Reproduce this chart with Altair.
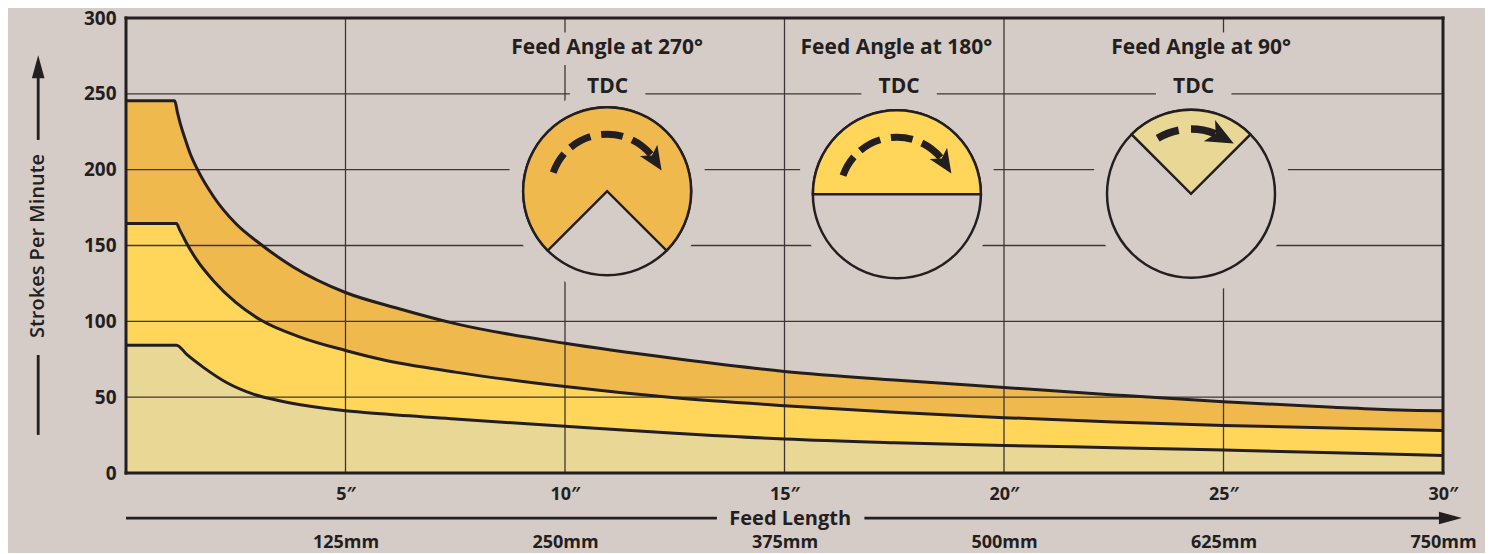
import math
import altair as alt
import pandas as pd

# ---------------- colours ----------------
BG = "#D6CCC7"
DARK = "#231F20"
GRID = "#3d3637"
ORANGE = "#F0B94E"
YELLOW = "#FFD65A"
BEIGE = "#E8D795"
FONT = "Open Sans"

# ---------------- curve data (feed length in inches, strokes per minute) ----------------
x_top = [0, 1.11, 1.17, 1.25, 1.35, 1.45, 1.63, 2.0, 2.5, 3.06, 3.8, 5, 6.2, 7.5, 10, 12.5, 15, 17.5, 20, 22.5, 25, 27.5, 29, 30]
spm_top = [245.4, 245.4, 238, 229, 220, 211.5, 200, 182, 164.5, 151, 136, 119, 108.5, 98.5, 85.5, 75.5, 67, 61.3, 56.4, 51.5, 47, 43.4, 41.6, 41.1]

x_mid = [0, 1.15, 1.22, 1.3, 1.39, 1.6, 2.0, 2.5, 3.06, 4, 5, 5.8, 7.5, 10, 12.5, 15, 17.5, 20, 22.5, 25, 27.5, 30]
spm_mid = [164.5, 164.5, 160.5, 156, 151, 141, 126.5, 112.5, 101, 89.3, 80.8, 75, 66.5, 57, 49.6, 44.4, 40.1, 36.5, 33.7, 31.4, 29.6, 28]

x_bot = [0, 1.15, 1.39, 1.77, 2.3, 2.9, 3.5, 4.12, 5, 5.8, 7.5, 10, 12.5, 15, 17.5, 20, 22.5, 25, 27.5, 30]
spm_bot = [84.3, 84.3, 78, 69.5, 59.5, 52, 47.6, 44.3, 41, 39, 35.6, 30.8, 26.2, 22.4, 20, 18.2, 16.7, 15.1, 13.4, 11.6]

x_ticks = [5, 10, 15, 20, 25, 30]
y_ticks = [0, 50, 100, 150, 200, 250, 300]
grid_x = [5, 10, 15, 20, 25]
grid_y = [50, 100, 150, 200, 250]

# ---------------- feed-angle diagrams ----------------
diag_titles = ["Feed Angle at 270°", "Feed Angle at 180°", "Feed Angle at 90°"]
diag_title_x = [10.96, 17.55, 24.49]
diag_title_y = [280, 280, 280]
tdc_x = [10.97, 17.61, 24.32]
tdc_y = [254.5, 254.5, 254.5]
diag_cx = [10.96, 17.56, 24.26]
diag_cy = [185.8, 183.8, 184.1]
sector_from = [-135, -90, -45]
sector_to = [135, 90, 45]
sector_colors = [ORANGE, YELLOW, BEIGE]
dash_angles = [
    [(-71, -49), (-40, -17), (-6, 16), (26, 50)],
    [(-71, -49), (-40, -17), (-6, 16), (26, 50)],
    [(-31, -11), (0, 22)],
]
dash_radii = [(53.5, 60.5), (53.5, 60.5), (61, 68.5)]
head_angle = [57, 57, 28]
head_radius = [57, 57, 64.5]
head_size = [600, 600, 800]
title_mask_x = [(8.4, 13.5), (15.12, 19.97), (22.1, 26.9)]

CIRCLE_R = 84
MASK_R = 100
W, H = 1317, 455
PX_X = W / 30.0     # pixels per inch
PX_Y = H / 300.0    # pixels per stroke/min

xs = alt.Scale(domain=[0, 30], nice=False, zero=False)
ys = alt.Scale(domain=[0, 300], nice=False, zero=False)

x_axis = alt.Axis(
    values=x_ticks,
    labelExpr="[datum.value + '″', (datum.value * 25) + 'mm']",
    labelFont=FONT, labelFontSize=18, labelFontWeight="bold", labelColor=DARK,
    labelLineHeight=48, labelPadding=12, labelBaseline="top",
    labelFlush=False, labelOverlap=False, ticks=False, domain=False, grid=False, title=None,
)
y_axis = alt.Axis(
    values=y_ticks, labelFont=FONT, labelFontSize=19, labelFontWeight="bold", labelColor=DARK,
    labelPadding=10, ticks=False, domain=False, grid=False, title=None, labelOverlap=False,
)


def X(f):
    return alt.X(f"{f}:Q", scale=xs, axis=x_axis)


def Y(f):
    return alt.Y(f"{f}:Q", scale=ys, axis=y_axis)


def rad(d):
    return math.radians(d) + 2 * math.pi


top_df = pd.DataFrame({"x": x_top, "y": spm_top})
mid_df = pd.DataFrame({"x": x_mid, "y": spm_mid})
bot_df = pd.DataFrame({"x": x_bot, "y": spm_bot})

area_top = alt.Chart(top_df).mark_area(color=ORANGE, interpolate="monotone").encode(x=X("x"), y=Y("y"))
area_mid = alt.Chart(mid_df).mark_area(color=YELLOW, interpolate="monotone").encode(x=X("x"), y=Y("y"))
area_bot = alt.Chart(bot_df).mark_area(color=BEIGE, interpolate="monotone").encode(x=X("x"), y=Y("y"))

gx_df = pd.DataFrame({"gx": grid_x, "y0": 0, "y1": 300})
gy_df = pd.DataFrame({"gy": grid_y, "x0": 0, "x1": 30})
grid_v = alt.Chart(gx_df).mark_rule(color=GRID, strokeWidth=1.3).encode(x=X("gx"), y=Y("y0"), y2="y1")
grid_h = alt.Chart(gy_df).mark_rule(color=GRID, strokeWidth=1.3).encode(y=Y("gy"), x=X("x0"), x2="x1")

lines = [
    alt.Chart(d).mark_line(color=DARK, strokeWidth=3, interpolate="monotone").encode(x=X("x"), y=Y("y"))
    for d in (top_df, mid_df, bot_df)
]

# masks that hide the grid behind the diagrams
diag_df = pd.DataFrame({"cx": diag_cx, "cy": diag_cy})
mask_circles = alt.Chart(diag_df).mark_point(
    shape="circle", size=(2 * MASK_R) ** 2, filled=True, color=BG, opacity=1, strokeWidth=0
).encode(x=X("cx"), y=Y("cy"))
tmask_df = pd.DataFrame({
    "x0": [a for a, b in title_mask_x], "x1": [b for a, b in title_mask_x], "y0": 269, "y1": 290.5,
})
tdcmask_df = pd.DataFrame({
    "x0": [t - 0.86 for t in tdc_x], "x1": [t + 0.86 for t in tdc_x], "y0": 246, "y1": 269,
})
mask_rects = alt.Chart(pd.concat([tmask_df, tdcmask_df])).mark_rect(color=BG, opacity=1).encode(
    x=X("x0"), x2="x1", y=Y("y0"), y2="y1")

outline = alt.Chart(diag_df).mark_point(
    shape="circle", size=(2 * CIRCLE_R) ** 2, filled=True, fill=BG, stroke=DARK,
    strokeWidth=2.5, opacity=1, strokeOpacity=1
).encode(x=X("cx"), y=Y("cy"))

sector_df = pd.DataFrame({
    "cx": diag_cx, "cy": diag_cy,
    "t0": [rad(a) for a in sector_from], "t1": [rad(b) for b in sector_to], "col": sector_colors,
})
sectors = alt.Chart(sector_df).mark_arc(radius=CIRCLE_R, stroke=DARK, strokeWidth=2.5, strokeJoin="miter").encode(
    x=X("cx"), y=Y("cy"),
    theta=alt.Theta("t0:Q", scale=None, stack=None), theta2="t1:Q",
    fill=alt.Fill("col:N", scale=None),
)

dash_rows = []
for i, segs in enumerate(dash_angles):
    for a, b in segs:
        dash_rows.append({"cx": diag_cx[i], "cy": diag_cy[i], "t0": rad(a), "t1": rad(b),
                          "r0": dash_radii[i][0], "r1": dash_radii[i][1]})
dash_df = pd.DataFrame(dash_rows)
dashes = alt.Chart(dash_df).mark_arc(color=DARK).encode(
    x=X("cx"), y=Y("cy"),
    theta=alt.Theta("t0:Q", scale=None, stack=None), theta2="t1:Q",
    radius=alt.Radius("r1:Q", scale=None, stack=None), radius2="r0:Q",
)

head_df = pd.DataFrame({
    "hx": [diag_cx[i] + head_radius[i] * math.sin(math.radians(head_angle[i])) / PX_X for i in range(3)],
    "hy": [diag_cy[i] + head_radius[i] * math.cos(math.radians(head_angle[i])) / PX_Y for i in range(3)],
    "rot": [90 + a for a in head_angle],
    "sz": head_size,
})
heads = alt.Chart(head_df).mark_point(
    shape="M0,-1L0.85,0.95L0,0.45L-0.85,0.95Z", filled=True, color=DARK, opacity=1
).encode(x=X("hx"), y=Y("hy"), angle=alt.Angle("rot:Q", scale=None), size=alt.Size("sz:Q", scale=None))

title_df = pd.DataFrame({"x": diag_title_x, "y": diag_title_y, "t": diag_titles})
titles = alt.Chart(title_df).mark_text(
    font=FONT, fontSize=21, fontWeight="bold", color=DARK, baseline="middle", align="center"
).encode(x=X("x"), y=Y("y"), text="t:N")
tdc_df = pd.DataFrame({"x": tdc_x, "y": tdc_y, "t": ["TDC"] * 3})
tdcs = alt.Chart(tdc_df).mark_text(
    font=FONT, fontSize=21, fontWeight="bold", color=DARK, baseline="middle", align="center"
).encode(x=X("x"), y=Y("y"), text="t:N")

# plot frame
frame_df = pd.DataFrame({"x0": [0, 30, 0, 0], "x1": [0, 30, 30, 30], "y0": [0, 0, 0, 300], "y1": [300, 300, 0, 300]})
frame = alt.Chart(frame_df).mark_rule(color=DARK, strokeWidth=3, strokeCap="square").encode(
    x=X("x0"), x2="x1", y=Y("y0"), y2="y1")

# axis arrows and titles
AX_Y = -29.7     # feed length arrow line (below plot)
AY_X = -2.0      # strokes per minute arrow line (left of plot)
arrow_lines_df = pd.DataFrame({
    "x0": [0, 16.82, AY_X, AY_X], "x1": [13.46, 30.2, AY_X, AY_X],
    "y0": [AX_Y, AX_Y, 219.6, 25.1], "y1": [AX_Y, AX_Y, 261.5, 77.8],
})
arrow_lines = alt.Chart(arrow_lines_df).mark_rule(color=DARK, strokeWidth=2.8).encode(
    x=X("x0"), x2="x1", y=Y("y0"), y2="y1")
arrow_heads_df = pd.DataFrame({"x": [30.17, AY_X], "y": [AX_Y, 267.9], "rot": [90, 0]})
arrow_heads = alt.Chart(arrow_heads_df).mark_point(
    shape="M0,-1L0.55,1L-0.55,1Z", size=529, filled=True, color=DARK, opacity=1
).encode(x=X("x"), y=Y("y"), angle=alt.Angle("rot:Q", scale=None))

axis_title_df = pd.DataFrame({"x": [15.13], "y": [AX_Y - 0.6], "t": ["Feed Length"]})
x_title = alt.Chart(axis_title_df).mark_text(
    font=FONT, fontSize=20, fontWeight="bold", color=DARK, baseline="middle", align="center"
).encode(x=X("x"), y=Y("y"), text="t:N")
y_title_df = pd.DataFrame({"x": [AY_X], "y": [149.7], "t": ["Strokes Per Minute"]})
y_title = alt.Chart(y_title_df).mark_text(
    font=FONT, fontSize=20, fontWeight=600, color=DARK, baseline="middle", align="center", angle=270
).encode(x=X("x"), y=Y("y"), text="t:N")

chart = alt.layer(
    area_top, area_mid, area_bot, grid_v, grid_h, *lines,
    mask_circles, mask_rects, outline, sectors, dashes, heads, titles, tdcs,
    frame, arrow_lines, arrow_heads, x_title, y_title,
).properties(
    width=W, height=H,
    autosize=alt.AutoSizeParams(type="none"),
    padding={"left": 118, "top": 10, "right": 42, "bottom": 80},
    background=BG,
).configure_view(stroke=None)

chart.save("out.html", embed_options={"renderer": "svg", "actions": False})
